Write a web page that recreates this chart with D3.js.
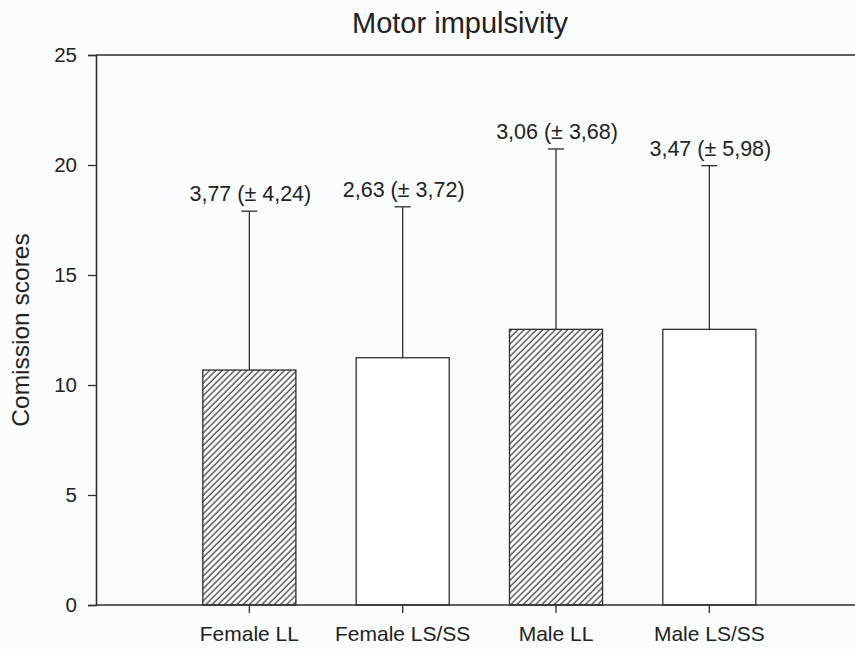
<!DOCTYPE html>
<html>
<head>
<meta charset="utf-8">
<script src="https://cdn.jsdelivr.net/npm/d3@7"></script>
<style>
  html, body { margin: 0; padding: 0; background: #fbfcfe; }
  svg { display: block; }
  text { font-family: "Liberation Sans", Arial, sans-serif; fill: #222; }
</style>
</head>
<body>
<svg id="chart" width="855" height="649"></svg>
<script>
// Groups, means, upper error (SD) and the annotation printed above each bar
const groups = ["Female LL", "Female LS/SS", "Male LL", "Male LS/SS"];
const means = [10.68, 11.24, 12.53, 12.53];
const errors = [7.22, 6.86, 8.20, 7.44];
const hatched = [true, false, true, false];
const annotations = ["3,77 (± 4,24)", "2,63 (± 3,72)", "3,06 (± 3,68)", "3,47 (± 5,98)"];
const yTicks = [0, 5, 10, 15, 20, 25];

const svg = d3.select("#chart");
const plotLeft = 96, plotRight = 855, plotTop = 55, plotBottom = 605;
const ink = "#2e2e2e";

// Diagonal hatching
const defs = svg.append("defs");
const pat = defs.append("pattern")
  .attr("id", "hatch")
  .attr("patternUnits", "userSpaceOnUse")
  .attr("width", 4.4).attr("height", 10)
  .attr("patternTransform", "rotate(45)");
pat.append("rect").attr("width", 4.4).attr("height", 10).attr("fill", "#fff");
pat.append("line").attr("x1", 1).attr("x2", 1).attr("y1", 0).attr("y2", 10)
  .attr("stroke", "#333").attr("stroke-width", 1.2);

const y = d3.scaleLinear().domain([0, 25]).range([plotBottom, plotTop]);
const x = d3.scaleBand().domain(groups)
  .range([172.7, 786])
  .paddingInner(0.393).paddingOuter(0.1965);

// Title
svg.append("text")
  .attr("x", 460).attr("y", 33)
  .attr("text-anchor", "middle")
  .attr("font-size", 29)
  .text("Motor impulsivity");

// Y axis title
svg.append("text")
  .attr("transform", `translate(29,${(plotTop + plotBottom) / 2}) rotate(-90)`)
  .attr("text-anchor", "middle")
  .attr("font-size", 24.5)
  .text("Comission scores");

// Top frame line
svg.append("line")
  .attr("x1", plotLeft).attr("x2", plotRight)
  .attr("y1", y(25)).attr("y2", y(25))
  .attr("stroke", ink).attr("stroke-width", 1.6);

// Error bars (drawn first so the bar outline sits over the stem)
const eb = svg.append("g");
groups.forEach((g, i) => {
  const cx = x(g) + x.bandwidth() / 2;
  eb.append("line")
    .attr("x1", cx).attr("x2", cx)
    .attr("y1", y(means[i])).attr("y2", y(means[i] + errors[i]))
    .attr("stroke", ink).attr("stroke-width", 1.3);
  eb.append("line")
    .attr("x1", cx - 8).attr("x2", cx + 8)
    .attr("y1", y(means[i] + errors[i])).attr("y2", y(means[i] + errors[i]))
    .attr("stroke", ink).attr("stroke-width", 1.3);
  svg.append("text")
    .attr("x", cx + 1).attr("y", y(means[i] + errors[i]) - 10)
    .attr("text-anchor", "middle")
    .attr("font-size", 21.5)
    .text(annotations[i]);
});

// Bars
svg.append("g").selectAll("rect")
  .data(groups)
  .join("rect")
  .attr("x", d => x(d))
  .attr("y", (d, i) => y(means[i]))
  .attr("width", x.bandwidth())
  .attr("height", (d, i) => y(0) - y(means[i]))
  .attr("fill", (d, i) => hatched[i] ? "url(#hatch)" : "#fff")
  .attr("stroke", ink)
  .attr("stroke-width", 1.3);

// Y axis
const yAxis = svg.append("g")
  .attr("transform", `translate(${plotLeft},0)`)
  .call(d3.axisLeft(y).tickValues(yTicks).tickSize(8).tickPadding(11).tickFormat(d3.format("d")));
yAxis.select(".domain").attr("stroke", ink).attr("stroke-width", 1.6);
yAxis.selectAll(".tick line").attr("stroke", ink).attr("stroke-width", 1.3);
yAxis.selectAll(".tick text").attr("font-size", 20.5).attr("fill", "#222")
  .attr("font-family", "Liberation Sans, Arial, sans-serif");

// X axis (extends to the right edge)
const xAxis = svg.append("g")
  .attr("transform", `translate(0,${plotBottom})`)
  .call(d3.axisBottom(x).tickSize(8).tickPadding(13).tickSizeOuter(0));
xAxis.select(".domain").attr("d", `M${plotLeft},0H${plotRight}`)
  .attr("stroke", ink).attr("stroke-width", 1.6);
xAxis.selectAll(".tick line").attr("stroke", ink).attr("stroke-width", 1.3);
xAxis.selectAll(".tick text").attr("font-size", 21).attr("fill", "#222")
  .attr("font-family", "Liberation Sans, Arial, sans-serif");
</script>
</body>
</html>
